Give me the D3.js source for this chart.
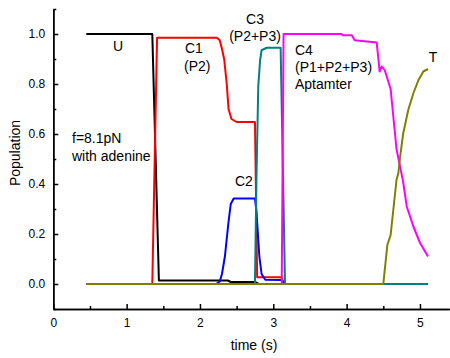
<!DOCTYPE html>
<html lang="en">
<head>
<meta charset="UTF-8">
<script src="https://d3js.org/d3.v7.min.js"></script>
<style>
  body { margin: 0; background: #fff; }
  svg text { font-family: "Liberation Sans", Arial, sans-serif; fill: #000; }
  .axis path, .axis line { stroke: #000; stroke-width: 1.5; }
  .axis text { font-size: 12px; }
  .lbl { font-size: 14px; }
</style>
<title>Population vs time</title>
</head>
<body>
<svg width="450" height="358"></svg>
<script>
// U (black)
const uTime = [0.45, 1.35, 1.44, 2.38, 2.42, 2.75, 2.80, 5.11];
const uPop  = [1.0, 1.0, 0.014, 0.014, 0.008, 0.008, 0, 0];
// C1 (red)
const c1Time = [0.45, 1.35, 1.415, 2.23, 2.27, 2.30, 2.33, 2.365, 2.39, 2.43, 2.50, 2.75, 2.78, 3.11, 3.15, 5.11];
const c1Pop  = [0, 0, 0.985, 0.985, 0.975, 0.94, 0.90, 0.80, 0.70, 0.66, 0.648, 0.648, 0.027, 0.027, 0, 0];
// C2 (blue)
const c2Time = [0.45, 2.22, 2.27, 2.30, 2.34, 2.39, 2.42, 2.46, 2.75, 2.77, 2.81, 2.84, 2.89, 3.11, 3.15, 5.11];
const c2Pop  = [0, 0, 0.01, 0.04, 0.11, 0.25, 0.32, 0.342, 0.342, 0.29, 0.11, 0.04, 0.017, 0.016, 0, 0];
// C3 (teal)
const c3Time = [0.45, 2.75, 2.77, 2.795, 2.82, 2.84, 2.91, 3.10, 3.16, 5.11];
const c3Pop  = [0, 0, 0.42, 0.79, 0.895, 0.935, 0.945, 0.945, 0, 0];
// C4 (magenta)
const c4Time = [0.45, 3.115, 3.14, 3.93, 3.95, 4.07, 4.11, 4.41, 4.45, 4.48, 4.52, 4.60, 4.68, 4.77, 4.82, 4.91, 5.00, 5.11];
const c4Pop  = [0, 0, 1.0, 1.0, 0.995, 0.995, 0.975, 0.966, 0.85, 0.87, 0.855, 0.78, 0.54, 0.41, 0.31, 0.23, 0.165, 0.11];
// T (olive)
const tTime = [0.45, 4.50, 4.555, 4.60, 4.68, 4.705, 4.73, 4.77, 4.84, 4.91, 4.98, 5.045, 5.11];
const tPop  = [0, 0, 0.156, 0.196, 0.416, 0.443, 0.51, 0.60, 0.696, 0.763, 0.816, 0.85, 0.86];

const xTicks = [0, 1, 2, 3, 4, 5];
const yTicks = [0.0, 0.2, 0.4, 0.6, 0.8, 1.0];

const series = [
  { t: uTime,  v: uPop,  color: "#000000" },
  { t: c1Time, v: c1Pop, color: "#ff0000" },
  { t: c2Time, v: c2Pop, color: "#0000ff" },
  { t: c3Time, v: c3Pop, color: "#008080" },
  { t: c4Time, v: c4Pop, color: "#ff00ff" },
  { t: tTime,  v: tPop,  color: "#808000" }
];

const svg = d3.select("svg");

const x = d3.scaleLinear().domain([0, 5.4]).range([53.3, 449.3]);
const y = d3.scaleLinear().domain([-0.1, 1.1]).range([309, 9]);

// curves
const line = d3.line().x(d => x(d[0])).y(d => y(d[1]));
series.forEach(s => {
  svg.append("path")
    .datum(s.t.map((t, i) => [t, s.v[i]]))
    .attr("fill", "none")
    .attr("stroke", s.color)
    .attr("stroke-width", 2)
    .attr("stroke-linejoin", "round")
    .attr("d", line);
});

// axes (ticks pointing inward)
svg.append("g").attr("class", "axis")
  .attr("transform", `translate(0,${y(-0.1)})`)
  .call(d3.axisBottom(x).tickValues(d3.range(0.5, 5.01, 1)).tickSizeInner(-3).tickSizeOuter(0).tickFormat(""));
svg.append("g").attr("class", "axis")
  .attr("transform", `translate(0,${y(-0.1)})`)
  .call(d3.axisBottom(x).tickValues(xTicks).tickSizeInner(-5).tickSizeOuter(0).tickPadding(9).tickFormat(d3.format("d")));

svg.append("g").attr("class", "axis")
  .attr("transform", `translate(${x(0)},0)`)
  .call(d3.axisLeft(y).tickValues([-0.1, 0.1, 0.3, 0.5, 0.7, 0.9, 1.1]).tickSizeInner(-3).tickSizeOuter(0).tickFormat(""));
svg.append("g").attr("class", "axis")
  .attr("transform", `translate(${x(0)},0)`)
  .call(d3.axisLeft(y).tickValues(yTicks).tickSizeInner(-5).tickSizeOuter(0).tickPadding(8).tickFormat(d3.format(".1f")));

// axis titles
svg.append("text").attr("class", "lbl")
  .attr("x", 254).attr("y", 350).attr("text-anchor", "middle").text("time (s)");
svg.append("text").attr("class", "lbl")
  .attr("transform", "translate(20,153) rotate(-90)")
  .attr("text-anchor", "middle").text("Population");

// annotations
const notes = [
  { s: "U", x: 118, y: 51, a: "middle" },
  { s: "C1", x: 185, y: 53, a: "start" },
  { s: "(P2)", x: 184, y: 71, a: "start" },
  { s: "C3", x: 255, y: 24, a: "middle" },
  { s: "(P2+P3)", x: 255, y: 41, a: "middle" },
  { s: "C2", x: 235, y: 186, a: "start" },
  { s: "C4", x: 295, y: 55, a: "start" },
  { s: "(P1+P2+P3)", x: 295, y: 72, a: "start" },
  { s: "Aptamter", x: 295, y: 89, a: "start" },
  { s: "T", x: 433, y: 62, a: "middle" },
  { s: "f=8.1pN", x: 72, y: 143, a: "start" },
  { s: "with adenine", x: 72, y: 161, a: "start" }
];
svg.selectAll(".note").data(notes).enter().append("text")
  .attr("class", "lbl note")
  .attr("x", d => d.x).attr("y", d => d.y)
  .attr("text-anchor", d => d.a)
  .text(d => d.s);
</script>
</body>
</html>
